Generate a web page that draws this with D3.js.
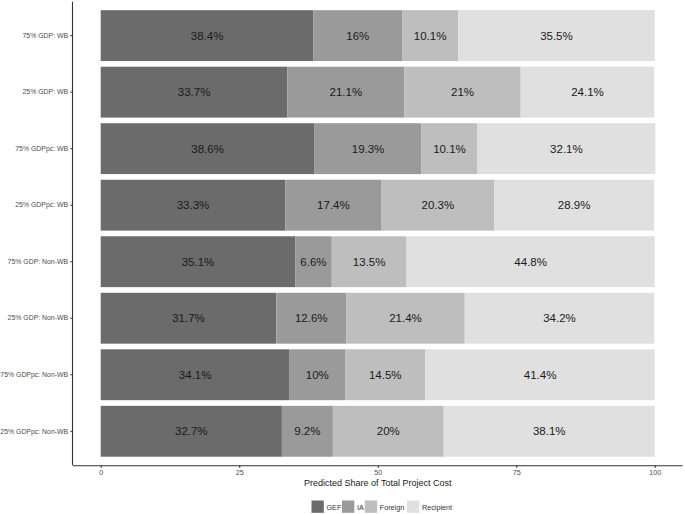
<!DOCTYPE html>
<html><head><meta charset="utf-8">
<script src="https://cdn.jsdelivr.net/npm/d3@7"></script>
<style>body{margin:0;background:#fff;font-family:"Liberation Sans",Arial,sans-serif;}</style>
</head><body><svg id="c" width="685" height="514"></svg>
<script>
const categories = ["75% GDP: WB","25% GDP: WB","75% GDPpc: WB","25% GDPpc: WB","75% GDP: Non-WB","25% GDP: Non-WB","75% GDPpc: Non-WB","25% GDPpc: Non-WB"];
const seriesNames = ["GEF","IA","Foreign","Recipient"];
const GEF = [38.4,33.7,38.6,33.3,35.1,31.7,34.1,32.7];
const IA = [16,21.1,19.3,17.4,6.6,12.6,10,9.2];
const Foreign = [10.1,21,10.1,20.3,13.5,21.4,14.5,20];
const Recipient = [35.5,24.1,32.1,28.9,44.8,34.2,41.4,38.1];
const xTicks = [0,25,50,75,100];
const colors = ["#6b6b6b","#9a9a9a","#bebebe","#e0e0e0"];

const svg = d3.select("#c");
const panel = {l:73, r:682.5, t:1.7, b:465.2};
const x = d3.scaleLinear().domain([-5,105]).range([panel.l, panel.r]);
const y = d3.scaleBand().domain(categories).range([panel.t, panel.b]).paddingInner(0.1).paddingOuter(0.15);

const table = categories.map((c,i)=>({cat:c, GEF:GEF[i], IA:IA[i], Foreign:Foreign[i], Recipient:Recipient[i]}));
const stack = d3.stack().keys(seriesNames)(table);
const color = d3.scaleOrdinal().domain(seriesNames).range(colors);

stack.forEach(layer=>{
  const g = svg.append("g");
  g.selectAll("rect").data(layer).enter().append("rect")
    .attr("x", d=>x(d[0])).attr("width", d=>x(d[1])-x(d[0]))
    .attr("y", d=>y(d.data.cat)).attr("height", y.bandwidth())
    .attr("fill", color(layer.key));
  g.selectAll("text").data(layer).enter().append("text")
    .attr("x", d=>(x(d[0])+x(d[1]))/2)
    .attr("y", d=>y(d.data.cat)+y.bandwidth()/2)
    .attr("dy","0.36em").attr("text-anchor","middle")
    .attr("font-size","11.5px").attr("fill","#1a1a1a")
    .text(d=>(d[1]-d[0]).toFixed(1).replace(/\.0$/,"")+"%");
});

// axes
const xa = svg.append("g").attr("transform",`translate(0,${panel.b})`)
  .call(d3.axisBottom(x).tickValues(xTicks).tickSize(2.7).tickPadding(2.5).tickFormat(d3.format("d")));
xa.select(".domain").attr("d",`M${panel.l},0.5H${panel.r}`).attr("stroke","#333").attr("stroke-width",1.1);
xa.selectAll(".tick line").attr("stroke","#333");
xa.selectAll(".tick text").attr("font-size","7.2px").attr("fill","#4d4d4d").attr("font-family","Liberation Sans, Arial, sans-serif");

const ya = svg.append("g").attr("transform",`translate(${panel.l},0)`)
  .call(d3.axisLeft(y).tickSize(2.7).tickPadding(2.2));
ya.select(".domain").attr("d",`M-0.5,${panel.t}V${panel.b}`).attr("stroke","#333").attr("stroke-width",1.1);
ya.selectAll(".tick line").attr("stroke","#333");
ya.selectAll(".tick text").attr("font-size","6.9px").attr("fill","#4d4d4d").attr("font-family","Liberation Sans, Arial, sans-serif");

svg.append("text").attr("x",(x(0)+x(100))/2).attr("y",486).attr("text-anchor","middle")
  .attr("font-size","9px").attr("fill","#1a1a1a").text("Predicted Share of Total Project Cost");

// legend
const legX = [311.5, 342, 364.8, 407];
const lg = svg.append("g");
seriesNames.forEach((s,i)=>{
  lg.append("rect").attr("x",legX[i]).attr("y",500.5).attr("width",12.3).attr("height",12.3).attr("fill",colors[i]);
  lg.append("text").attr("x",legX[i]+15).attr("y",507).attr("dy","0.35em").attr("font-size","7.2px").attr("fill","#333").text(s);
});
</script></body></html>
